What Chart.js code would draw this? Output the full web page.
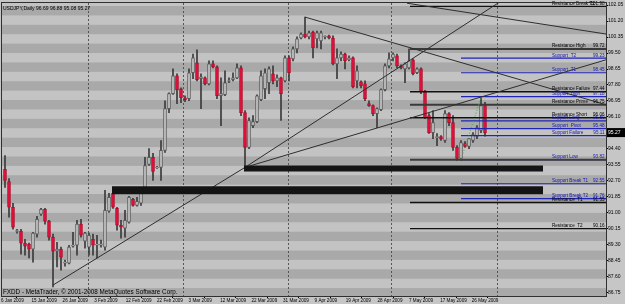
<!DOCTYPE html>
<html>
<head>
<meta charset="utf-8">
<script src="https://cdn.jsdelivr.net/npm/chart.js@4.4.1/dist/chart.umd.min.js"></script>
<style>
html, body { margin: 0; padding: 0; background: #c6c6c6; }
canvas { display: block; }
</style>
</head>
<body>
<canvas id="graficoDiario" width="625" height="304"></canvas>
<script>
const tituloSimbolo = "USDJPY,Daily 96.69 96.88 95.08 95.27";
const textoPie = "FXDD - MetaTrader, \u00a9 2001-2008 MetaQuotes Software Corp.";

// velas diarias (una por barra)
const aperturas = [93.31,92.67,91.30,90.02,90.03,89.39,89.34,89.07,89.87,90.93,91.19,90.56,89.71,88.97,89.07,88.33,88.33,89.23,89.28,90.40,
  89.50,89.18,89.60,89.28,89.28,89.18,91.09,92.04,91.24,90.34,90.19,90.50,91.72,91.40,91.51,92.31,93.58,93.95,93.40,93.42,
  94.32,96.54,97.34,98.29,97.60,97.12,97.07,98.45,98.98,98.13,98.18,97.86,98.92,98.77,97.23,97.28,98.00,98.08,98.18,98.71,
  96.33,94.48,95.64,95.85,97.02,97.60,97.92,98.40,98.02,98.18,98.02,99.24,99.19,99.72,100.30,100.51,100.36,100.62,100.25,100.14,
  100.36,100.41,100.30,98.92,99.24,99.45,99.14,99.24,98.02,97.97,97.86,96.81,96.70,96.28,96.49,97.55,98.82,99.24,99.35,98.82,
  98.66,98.71,99.14,98.45,98.66,97.49,96.17,95.27,95.00,95.06,94.85,96.28,95.80,94.48,93.89,94.69,94.53,94.85,95.06,95.38,96.69];
const maximos = [94.05,92.83,91.51,90.13,90.13,89.60,89.39,89.97,90.82,91.24,91.24,90.60,89.87,89.44,89.18,88.49,89.28,89.97,90.61,90.66,
  89.97,89.92,89.87,89.81,89.55,92.20,92.04,92.20,91.30,90.61,91.14,91.88,91.77,91.83,92.31,93.95,94.42,94.16,93.47,94.85,
  96.96,97.39,98.66,98.40,97.65,97.23,98.66,99.45,99.67,98.40,98.24,99.08,99.08,98.82,98.18,98.55,98.18,98.45,98.92,98.82,
  96.44,96.06,96.17,97.28,98.55,98.66,98.77,98.82,98.34,98.22,99.35,99.35,99.83,100.36,100.57,101.41,100.67,100.67,100.67,100.67,
  100.41,100.46,100.41,99.72,99.56,99.50,99.35,99.30,98.82,98.02,98.02,96.96,96.75,96.59,97.60,98.92,99.51,99.51,99.45,98.87,
  98.98,99.72,99.19,98.71,98.71,97.52,96.28,96.44,95.22,95.11,96.44,96.33,96.17,94.58,94.85,94.79,94.95,95.27,95.64,97.12,96.88];
const minimos = [92.36,90.77,90.13,89.92,88.81,88.75,88.60,88.38,89.71,90.87,90.40,89.55,87.06,88.12,87.96,88.17,88.28,89.18,88.75,89.71,
  89.12,88.75,88.75,88.60,89.18,89.02,91.03,91.24,90.08,89.65,89.71,90.45,91.35,91.35,91.40,92.20,93.52,92.73,93.36,92.73,
  94.21,96.33,97.30,96.81,96.86,96.91,96.96,98.13,98.02,96.54,97.81,97.81,98.71,97.07,95.64,97.23,97.92,98.02,98.13,96.17,
  93.42,94.42,95.53,95.80,96.96,97.07,97.34,97.86,97.71,95.91,97.97,98.02,99.08,99.51,100.25,100.30,100.25,99.24,99.77,99.72,
  100.25,100.25,98.87,98.13,99.08,98.66,99.08,97.65,97.65,97.65,96.96,96.66,96.17,95.53,96.44,97.49,98.71,99.08,98.71,98.66,
  97.92,98.66,98.34,98.40,97.34,96.01,95.22,94.95,94.58,94.85,94.74,95.64,94.32,93.79,93.79,94.48,94.42,94.74,94.95,95.27,95.08];
const cierres = [92.73,91.30,90.24,90.06,89.39,89.23,89.07,89.92,90.66,91.19,90.56,89.71,88.97,89.07,88.65,88.38,89.18,89.28,90.40,89.81,
  89.92,89.81,89.28,89.34,89.34,91.14,91.83,91.30,90.34,90.24,90.61,91.83,91.40,91.61,92.09,93.52,93.95,93.20,93.44,94.32,
  96.54,97.34,98.29,97.55,97.12,97.02,98.45,99.24,98.08,98.24,97.86,98.92,98.77,97.23,97.34,97.92,98.04,98.18,98.71,96.33,
  94.48,95.91,95.85,97.23,98.29,98.45,98.66,98.02,98.18,97.34,99.24,98.45,99.72,100.25,100.51,100.36,100.57,99.77,100.57,100.57,
  100.40,100.30,98.92,99.24,99.45,99.08,99.24,97.71,98.55,97.76,97.07,96.70,96.28,96.54,97.55,98.82,99.19,99.45,98.82,98.71,
  98.92,99.08,98.40,98.66,97.49,96.06,95.27,95.80,95.06,94.95,96.28,95.80,94.48,93.89,94.74,94.53,94.95,95.17,95.53,96.70,95.27];

// eje de tiempo (posicion en barras)
const etiquetasFecha = ["6 Jan 2009","15 Jan 2009","26 Jan 2009","3 Feb 2009","12 Feb 2009","22 Feb 2009","3 Mar 2009","12 Mar 2009",
  "22 Mar 2009","31 Mar 2009","9 Apr 2009","19 Apr 2009","28 Apr 2009","7 May 2009","17 May 2009","26 May 2009"];
const barrasFecha = [-1, 6.6, 14.4, 22.3, 30.2, 38, 45.9, 53.8, 61.6, 69.5, 77.4, 85.2, 93.1, 101, 108.8, 116.7];
const barrasRejilla = [20.75, 44.5, 70.75, 96.5, 123];
const marcasPrecio = [86.75,87.60,88.45,89.30,90.15,91.00,91.85,92.70,93.55,94.40,95.25,96.10,96.95,97.80,98.65,99.50,100.35,101.20,102.05];

// niveles de soporte / resistencia
const nivelesNombre = ["Resistance Break T1","Resistance High","Support  T2","Support  T1","Resistance Failure","Support  High",
  "Resistance Prime","Resistance Short","Support Long","Support  Pivot","Support Failure","Support Low",
  "Support Break T1","Support Break T2","Resistance  T1","Resistance  T2"];
const nivelesValor = [101.98,99.72,99.23,98.45,97.44,97.18,96.75,96.06,95.89,95.48,95.11,93.82,92.55,91.76,91.55,90.16];
const nivelesDesde = [101.25,101.25,114,114,101.25,114,101.25,101.25,114,114,114,101.25,114,114,101.25,101.25];

// zonas gruesas
const zonasValor = [93.36, 92.20];
const zonasDesde = [59.75, 26.75];
const zonasHasta = [134.5, 134.5];

// lineas de tendencia [barra, precio]
const lineaAlcista = [[12, 87.16], [60, 93.42], [124, 102.26]];
const lineaAbanico = [[60, 93.42], [150.25, 99.14]];
const lineaBajista = [[75, 101.41], [150.25, 96.75]];
const lineaSuperior = [[100.5, 102.15], [150.25, 100.51]];
const lineaRebote = [[114, 93.85], [119, 97.12]];

const X_MIN = -0.75, X_MAX = 150.25;
const Y_MIN = 86.58, Y_MAX = 102.16;

const velas = aperturas.map((o, i) => ({ o, h: maximos[i], l: minimos[i], c: cierres[i] }));
const alcista = velas.map(v => v.c >= v.o);

const datasets = [];

datasets.push({
    type: "bar",
    order: 3,
    grouped: false,
    barThickness: 1,
    backgroundColor: "#3a3a3a",
    data: velas.map((v, i) => ({ x: i, y: [v.l, v.h] }))
});

datasets.push({
    type: "bar",
    order: 2,
    grouped: false,
    barThickness: 3,
    borderWidth: 1,
    borderSkipped: false,
    backgroundColor: alcista.map(a => a ? "#c9c9c9" : "#e8103c"),
    borderColor: alcista.map(a => a ? "#5c5c5c" : "#b00c2c"),
    data: velas.map((v, i) => ({ x: i, y: [v.o, v.c] }))
});

function linea(puntos, color, ancho, extra) {
    return Object.assign({
        type: "line",
        order: 1,
        borderColor: color,
        borderWidth: ancho,
        pointRadius: 0,
        tension: 0,
        fill: false,
        data: puntos.map(p => ({ x: p[0], y: p[1] }))
    }, extra || {});
}

zonasValor.forEach((v, k) => {
    datasets.push(linea([[zonasDesde[k], v], [zonasHasta[k], v]], "#141414", k === 0 ? 6 : 8));
});

[lineaAlcista, lineaAbanico, lineaBajista, lineaSuperior].forEach(l => {
    datasets.push(linea(l, "#2e2e2e", 1));
});
datasets.push(linea(lineaRebote, "#3cae3c", 1, { borderDash: [1, 2] }));

nivelesValor.forEach((v, k) => {
    const nombre = nivelesNombre[k];
    const esSoporte = nombre.startsWith("Support");
    if (nombre === "Support Low") {
        datasets.push(linea([[nivelesDesde[k], v], [X_MAX, v]], "#3c3c3c", 2));
        datasets.push(linea([[nivelesDesde[k] + 12.75, v], [X_MAX, v]], "#1f25b4", 1));
        return;
    }
    if (esSoporte) {
        datasets.push(linea([[nivelesDesde[k], v], [X_MAX, v]], "#1f25b4", 1.2));
    } else if (nombre === "Resistance High" || nombre === "Resistance Prime") {
        datasets.push(linea([[nivelesDesde[k], v], [X_MAX, v]], "#3a3a3a", 2));
    } else {
        datasets.push(linea([[nivelesDesde[k], v], [X_MAX, v]], "#101010", 1.4));
    }
});

const FUENTE = "Liberation Sans, Arial, sans-serif";

const fondoMT = {
    id: "fondoMT",
    beforeDraw(chart) {
        const { ctx, chartArea: a, scales: { y } } = chart;
        ctx.save();
        ctx.fillStyle = "#c6c6c6";
        ctx.fillRect(0, 0, chart.width, chart.height);
        ctx.fillStyle = "#c3c3c3";
        ctx.fillRect(a.left, a.top, a.right - a.left, a.bottom - a.top);
        ctx.beginPath();
        ctx.rect(a.left, a.top, a.right - a.left, a.bottom - a.top);
        ctx.clip();
        ctx.fillStyle = "#a9a9a9";
        for (let n = Math.floor(Y_MIN); n <= Math.ceil(Y_MAX); n++) {
            const y1 = y.getPixelForValue(n);
            const y2 = y.getPixelForValue(n - 0.5);
            ctx.fillRect(a.left, y1, a.right - a.left, y2 - y1);
        }
        ctx.restore();
    },
    beforeDatasetsDraw(chart) {
        const { ctx, chartArea: a, scales: { x } } = chart;
        ctx.save();
        ctx.strokeStyle = "#555555";
        ctx.lineWidth = 1;
        ctx.setLineDash([2, 2]);
        barrasRejilla.forEach(b => {
            const px = Math.round(x.getPixelForValue(b)) + 0.5;
            ctx.beginPath();
            ctx.moveTo(px, a.top);
            ctx.lineTo(px, a.bottom);
            ctx.stroke();
        });
        ctx.restore();
    },
    afterDatasetsDraw(chart) {
        const { ctx, chartArea: a, scales: { y } } = chart;
        ctx.save();
        ctx.font = "4.6px " + FUENTE;
        ctx.textBaseline = "bottom";
        nivelesValor.forEach((v, k) => {
            const nombre = nivelesNombre[k];
            const py = y.getPixelForValue(v);
            ctx.fillStyle = nombre.startsWith("Support") ? "#1818b0" : "#000000";
            ctx.textAlign = "left";
            ctx.fillText(nombre, 552, py - 0.5);
            ctx.textAlign = "right";
            ctx.fillText(v.toFixed(2), a.right - 1.5, py - 0.5);
        });

        ctx.textAlign = "left";
        ctx.fillStyle = "#000000";
        ctx.textBaseline = "top";
        ctx.font = "5px " + FUENTE;
        ctx.fillText(tituloSimbolo, a.left + 1, a.top + 3);
        ctx.textBaseline = "bottom";
        ctx.font = "6.3px " + FUENTE;
        ctx.fillText(textoPie, a.left + 1, a.bottom - 1);

        // caja del ultimo precio
        const ultimo = cierres[cierres.length - 1];
        const py = y.getPixelForValue(ultimo);
        ctx.fillStyle = "#000000";
        ctx.fillRect(a.right + 1, py - 4.5, chart.width - a.right - 1, 9);
        ctx.fillStyle = "#ffffff";
        ctx.font = "5px " + FUENTE;
        ctx.textBaseline = "middle";
        ctx.fillText(ultimo.toFixed(2), a.right + 2, py);

        ctx.strokeStyle = "#303030";
        ctx.lineWidth = 1;
        ctx.strokeRect(a.left - 0.5, a.top - 0.5, a.right - a.left + 1, a.bottom - a.top + 1);
        ctx.restore();
    }
};

new Chart(document.getElementById("graficoDiario"), {
    type: "bar",
    data: { datasets },
    options: {
        responsive: false,
        animation: false,
        events: [],
        layout: { padding: { left: 2, top: 2, right: 0, bottom: 0 } },
        plugins: { legend: { display: false }, tooltip: { enabled: false } },
        scales: {
            x: {
                type: "linear",
                min: X_MIN,
                max: X_MAX,
                offset: false,
                afterFit: s => { s.height = 8; },
                afterBuildTicks: s => { s.ticks = barrasFecha.map(v => ({ value: v })); },
                grid: { drawOnChartArea: false, tickLength: 2, color: "#000000" },
                border: { display: true, color: "#303030" },
                ticks: {
                    autoSkip: false,
                    maxRotation: 0,
                    align: "start",
                    padding: 0,
                    color: "#000000",
                    font: { family: FUENTE, size: 4.6 },
                    callback: (val, idx) => etiquetasFecha[idx]
                }
            },
            y: {
                position: "right",
                min: Y_MIN,
                max: Y_MAX,
                afterFit: s => { s.width = 19; },
                afterBuildTicks: s => { s.ticks = marcasPrecio.map(v => ({ value: v })); },
                grid: { drawOnChartArea: false, tickLength: 2, color: "#000000" },
                border: { display: true, color: "#303030" },
                ticks: {
                    autoSkip: false,
                    padding: 0,
                    color: "#000000",
                    font: { family: FUENTE, size: 5 },
                    callback: v => Number(v).toFixed(2)
                }
            }
        }
    },
    plugins: [fondoMT]
});
</script>
</body>
</html>
